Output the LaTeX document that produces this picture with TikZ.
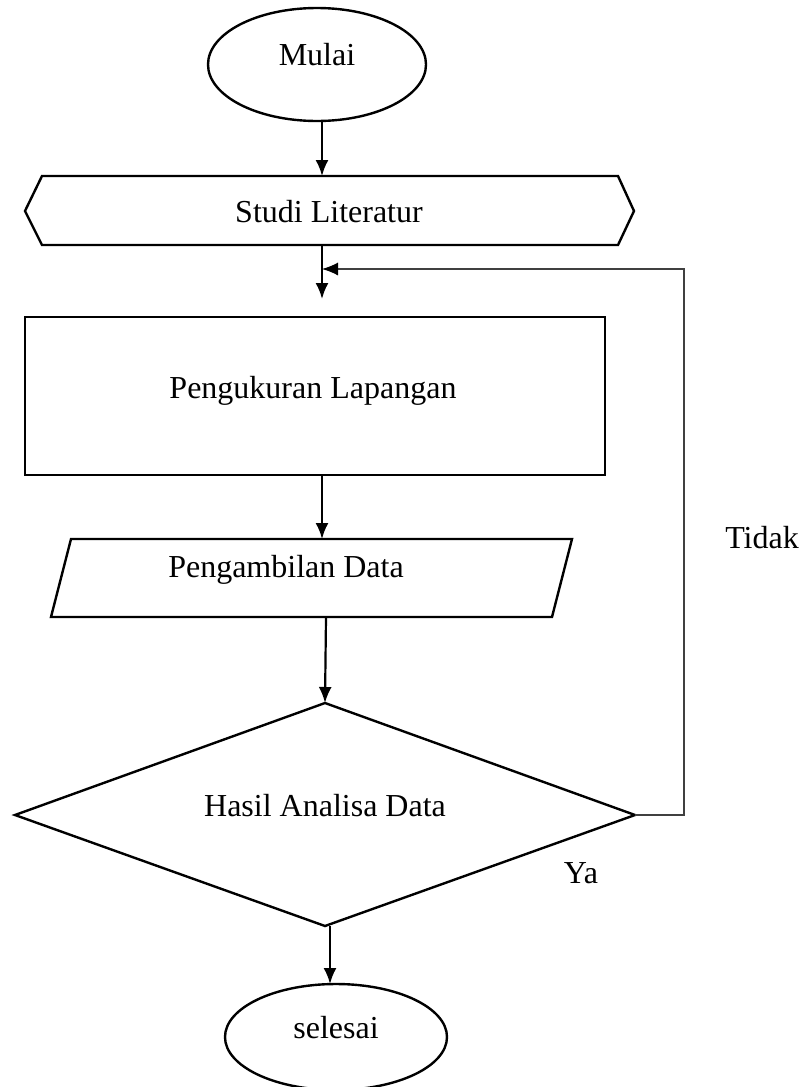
\documentclass[tikz,border=0pt]{standalone}
\usepackage{fontspec}
\setmainfont{Liberation Serif}
\usetikzlibrary{arrows.meta,shapes.geometric}
\begin{document}
\begin{tikzpicture}[x=0.5pt,y=-0.5pt,
  shapeline/.style={draw=black,line width=1.2pt,line join=miter},
  lbl/.style={anchor=base,inner sep=0pt,font=\fontsize{16}{19}\selectfont},
  flow/.style={draw=black,line width=1.1pt,-{Latex[length=8pt,width=6.5pt]}},
  back/.style={draw=black!75,line width=0.6pt,-{Latex[length=8pt,width=6.5pt,fill=black,color=black]}}]
\useasboundingbox (0,0) rectangle (811,1087);
% start
\node[ellipse,shapeline,minimum width=109pt,minimum height=56.5pt,inner sep=0pt] (mulai) at (317,64.5) {};
\node[lbl] (tmulai) at (317,65) {Mulai};
% studi literatur (hexagon)
\draw[shapeline] (25,211) -- (42,176) -- (618,176) -- (634,211) -- (618,245) -- (42,245) -- cycle;
\coordinate (litN) at (322,176);
\coordinate (litS) at (322,245);
\node[lbl] (tlit) at (329,222) {Studi Literatur};
% pengukuran lapangan
\node[rectangle,shapeline,minimum width=290pt,minimum height=79pt,inner sep=0pt] (ukur) at (315,396) {};
\node[lbl] (tukur) at (313,398) {Pengukuran Lapangan};
\coordinate (ukurIn) at (322,299);
\coordinate (ukurS) at (322,475);
% pengambilan data
\draw[shapeline] (71,539) -- (572,539) -- (552,617) -- (51,617) -- cycle;
\coordinate (parN) at (322,539);
\coordinate (parS) at (326,617);
\node[lbl] (tpar) at (286,577) {Pengambilan Data};
% decision
\draw[shapeline] (325,703) -- (635,815) -- (325,926) -- (15,815) -- cycle;
\coordinate (dN) at (325,703);
\coordinate (dE) at (635,815);
\coordinate (dS) at (330,926);
\node[lbl] (thasil) at (325,816) {Hasil Analisa Data};
% end
\node[ellipse,shapeline,minimum width=111pt,minimum height=53pt,inner sep=0pt] (selesai) at (336,1037) {};
\node[lbl] (tsel) at (336,1038) {selesai};
\coordinate (selN) at (330,984);
% feedback corners
\coordinate (fb1) at (684,815);
\coordinate (fb2) at (684,269);
\coordinate (merge) at (322,269);
% labels
\node[lbl] (ttidak) at (762,548) {Tidak};
\node[lbl] (tya) at (581,883) {Ya};
% connectors
\draw[flow] (litN |- mulai.south) -- (litN);
\draw[flow] (litS) -- (ukurIn);
\draw[flow] (ukurS) -- (parN);
\draw[flow] (parS) -- (dN);
\draw[flow] (dS) -- (selN);
\draw[back] (dE) -- (fb1) -- (fb2) -- (merge);
\end{tikzpicture}
\end{document}
